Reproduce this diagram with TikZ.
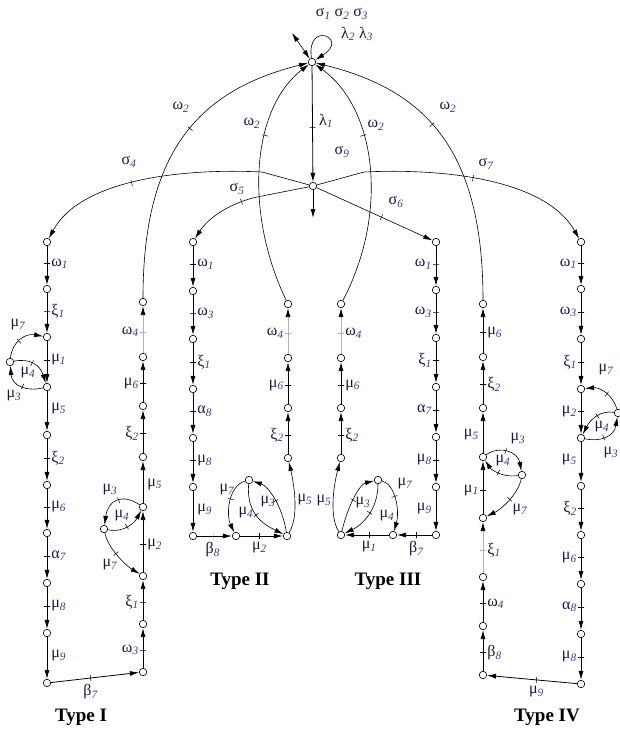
\documentclass[tikz,border=0pt]{standalone}
\usepackage{fontspec}
\setmainfont{Liberation Serif}
\usetikzlibrary{arrows.meta}
\definecolor{lab}{RGB}{25,25,60}
\definecolor{subc}{RGB}{50,60,130}
\newcommand{\sbx}[1]{\textsubscript{\itshape\color{subc}#1}}
\newcommand\edR[4][e]{\draw[#1] (#2) -- node[tk]{} node[lr]{#4} (#3);}
\newcommand\edL[4][e]{\draw[#1] (#2) -- node[tk]{} node[ll]{#4} (#3);}
\newcommand\enR[3]{\draw[e] (#1) -- node[lr]{#3} (#2);}
\newcommand\enL[3]{\draw[e] (#1) -- node[ll]{#3} (#2);}
\begin{document}
\begin{tikzpicture}[x=1pt,y=-1pt,
  v/.style={circle,draw,line width=0.6pt,inner sep=0pt,minimum size=7.5pt,fill=white},
  e/.style={line width=0.8pt,-{Latex[length=9pt,width=5pt]}},
  ge/.style={line width=0.8pt,draw=gray!60,-{Latex[length=9pt,width=5pt,color=black]}},
  th/.style={line width=0.6pt,-{Latex[length=9pt,width=5pt]}},
  tk/.style={pos=.45,sloped,draw,line width=0.5pt,inner sep=0pt,minimum width=0pt,minimum height=6pt,rectangle,fill=none},
  lbl/.style={text=lab,font=\fontsize{16}{17}\selectfont,inner sep=1pt},
  lr/.style={lbl,pos=.45,right=3pt},
  ll/.style={lbl,pos=.45,left=3pt},
  lb/.style={lbl,pos=.45,below=5pt},
  ty/.style={font=\fontsize{19}{21}\selectfont\bfseries}
]
\useasboundingbox (0,0) rectangle (620,731);
% ---------- nodes
\node[v] (T) at (312,62) {};
\node[v] (C) at (313,186) {};
\coordinate (tup) at (292,33);
\coordinate (cd) at (313,218);
\foreach \n/\y in {1/242,2/289,3/337,4/387,5/435,6/485,7/533,8/583,9/633,10/683} \node[v] (a\n) at (47,\y) {};
\foreach \n/\y in {1/672,2/624,3/576,4/507,5/457,6/406,7/357,8/302} \node[v] (b\n) at (143,\y) {};
\node[v] (s1) at (10,362) {};
\node[v] (s2) at (104,529) {};
\foreach \n/\y in {1/242,2/291,3/339,4/389,5/438,6/487,7/536} \node[v] (c\n) at (193,\y) {};
\node[v] (c8) at (236,536) {};
\node[v] (c9) at (287,536) {};
\node[v] (ct) at (249,480) {};
\foreach \n/\y in {1/458,2/408,3/358,4/304} \node[v] (d\n) at (288,\y) {};
\foreach \n/\y in {1/242,2/290,3/338,4/387,5/437,6/487,7/535} \node[v] (f\n) at (436,\y) {};
\node[v] (f8) at (393,535) {};
\node[v] (f9) at (341,535) {};
\node[v] (ft) at (378,480) {};
\foreach \n/\y in {1/458,2/408,3/358,4/304} \node[v] (g\n) at (341,\y) {};
\foreach \n/\y in {1/242,2/289,3/339,4/389,5/438,6/486,7/535,8/584,9/634,10/684} \node[v] (h\n) at (581,\y) {};
\node[v] (s4) at (618,413) {};
\foreach \n/\y in {1/675,2/626,3/577,4/518,5/457,6/408,7/357,8/304} \node[v] (k\n) at (483,\y) {};
\node[v] (s5) at (522,475) {};
% ---------- top
\draw[th] (T) .. controls (306,20) and (350,38) .. (T);
\draw[th,{Latex[length=9pt,width=5pt]}-{Latex[length=9pt,width=5pt]}] (T) -- (tup);
\node[lbl] (sg) at (342,14) {σ\sbx{1} σ\sbx{2} σ\sbx{3}};
\node[lbl] (lm) at (357,34) {λ\sbx{2} λ\sbx{3}};
\draw[e] (T) -- node[tk,pos=.53]{} (C);
\node[lbl] (l1) at (326,121) {λ\sbx{1}};
\node[lbl] (s9) at (342,152) {σ\sbx{9}};
\draw[e] (C) -- (cd);
% sigma curves
\draw[th] (C) -- (262,172) .. controls (180,168) and (80,180) .. node[tk,pos=.52]{} (a1);
\node[lbl] (ls4) at (129,162) {σ\sbx{4}};
\draw[th] (C) -- (364,172) .. controls (446,168) and (546,180) .. node[tk,pos=.43]{} (h1);
\node[lbl] (ls7) at (486,164) {σ\sbx{7}};
\draw[th] (C) -- (257,197) .. controls (230,203) and (208,218) .. node[tk,pos=.2]{} (c1);
\node[lbl] (ls5) at (237,189) {σ\sbx{5}};
\draw[th] (C) -- node[tk,pos=.56]{} (f1);
\node[lbl] (ls6) at (396,202) {σ\sbx{6}};
% omega2 curves
\draw[th] (b8) .. controls (143,150) and (200,90) .. node[tk,pos=.53]{} (T);
\node[lbl] (w1) at (181,107) {ω\sbx{2}};
\draw[th] (d4) .. controls (245,215) and (250,110) .. node[tk,pos=.63]{} (T);
\node[lbl] (w2) at (252,123) {ω\sbx{2}};
\draw[th] (g4) .. controls (388,215) and (378,110) .. node[tk,pos=.63]{} (T);
\node[lbl] (w3) at (376,125) {ω\sbx{2}};
\draw[th] (k8) .. controls (483,150) and (426,90) .. node[tk,pos=.55]{} (T);
\node[lbl] (w4) at (448,107) {ω\sbx{2}};
% ---------- Type I
\edR{a1}{a2}{ω\sbx{1}}
\edR{a2}{a3}{ξ\sbx{1}}
\edR{a3}{a4}{μ\sbx{1}}
\enR{a4}{a5}{μ\sbx{5}}
\edR{a5}{a6}{ξ\sbx{2}}
\edR{a6}{a7}{μ\sbx{6}}
\edR{a7}{a8}{α\sbx{7}}
\edR{a8}{a9}{μ\sbx{8}}
\enR{a9}{a10}{μ\sbx{9}}
\draw[e] (a10) -- node[tk]{} node[lb]{β\sbx{7}} (b1);
\edL{b1}{b2}{ω\sbx{3}}
\edL{b2}{b3}{ξ\sbx{1}}
\edR{b3}{b4}{μ\sbx{2}}
\enR{b4}{b5}{μ\sbx{5}}
\edL{b5}{b6}{ξ\sbx{2}}
\edL{b6}{b7}{μ\sbx{6}}
\edL[ge]{b7}{b8}{ω\sbx{4}}
\draw[th] (s1) .. controls (12,342) and (25,333) .. node[tk]{} (a3);
\draw[th] (s1) .. controls (30,358) and (40,365) .. node[tk]{} (a4);
\draw[th] (a4) .. controls (25,392) and (12,385) .. node[tk]{} (s1);
\node[lbl] (m17) at (18,325) {μ\sbx{7}};
\node[lbl] (m14) at (28,373) {μ\sbx{4}};
\node[lbl] (m13) at (14,396) {μ\sbx{3}};
\draw[th] (b4) .. controls (122,493) and (108,500) .. node[tk]{} (s2);
\draw[th] (s2) .. controls (125,533) and (135,522) .. node[tk]{} (b4);
\draw[th] (s2) .. controls (108,548) and (125,565) .. node[tk]{} (b3);
\node[lbl] (m23) at (110,490) {μ\sbx{3}};
\node[lbl] (m24) at (122,516) {μ\sbx{4}};
\node[lbl] (m27) at (110,565) {μ\sbx{7}};
\node[ty] (ty1) at (81,717) {Type I};
% ---------- Type II
\edR{c1}{c2}{ω\sbx{1}}
\edR{c2}{c3}{ω\sbx{3}}
\edR{c3}{c4}{ξ\sbx{1}}
\edR{c4}{c5}{α\sbx{8}}
\edR{c5}{c6}{μ\sbx{8}}
\enR{c6}{c7}{μ\sbx{9}}
\draw[e] (c7) -- node[tk]{} node[lb]{β\sbx{8}} (c8);
\draw[e] (c8) -- node[tk]{} node[lb]{μ\sbx{2}} (c9);
\draw[th] (ct) .. controls (228,486) and (226,515) .. node[tk]{} (c8);
\draw[th] (ct) .. controls (246,515) and (265,525) .. node[tk]{} (c9);
\draw[th] (c9) .. controls (282,505) and (268,486) .. node[tk]{} (ct);
\draw[th] (c9) .. controls (300,515) and (293,480) .. (d1);
\node[lbl] (n7) at (227,490) {μ\sbx{7}};
\node[lbl] (n4) at (246,513) {μ\sbx{4}};
\node[lbl] (n3) at (268,502) {μ\sbx{3}};
\node[lbl] (n5) at (305,500) {μ\sbx{5}};
\edL{d1}{d2}{ξ\sbx{2}}
\edL{d2}{d3}{μ\sbx{6}}
\edL[ge]{d3}{d4}{ω\sbx{4}}
\node[ty] (ty2) at (240,581) {Type II};
% ---------- Type III
\edL{f1}{f2}{ω\sbx{1}}
\edL{f2}{f3}{ω\sbx{3}}
\edL{f3}{f4}{ξ\sbx{1}}
\edL{f4}{f5}{α\sbx{7}}
\edL{f5}{f6}{μ\sbx{8}}
\enL{f6}{f7}{μ\sbx{9}}
\draw[e] (f7) -- node[tk]{} node[lb]{β\sbx{7}} (f8);
\draw[e] (f8) -- node[tk]{} node[lb]{μ\sbx{1}} (f9);
\draw[th] (f9) .. controls (348,505) and (360,484) .. node[tk]{} (ft);
\draw[th] (ft) .. controls (378,510) and (362,525) .. node[tk]{} (f9);
\draw[th] (ft) .. controls (395,484) and (400,510) .. node[tk]{} (f8);
\draw[th] (f9) .. controls (328,515) and (335,480) .. (g1);
\node[lbl] (p3) at (363,503) {μ\sbx{3}};
\node[lbl] (p4) at (387,516) {μ\sbx{4}};
\node[lbl] (p7) at (405,484) {μ\sbx{7}};
\node[lbl] (p5) at (324,501) {μ\sbx{5}};
\edR{g1}{g2}{ξ\sbx{2}}
\edR{g2}{g3}{μ\sbx{6}}
\edR[ge]{g3}{g4}{ω\sbx{4}}
\node[ty] (ty3) at (388,581) {Type III};
% ---------- Type IV
\edL{h1}{h2}{ω\sbx{1}}
\edL{h2}{h3}{ω\sbx{3}}
\edL{h3}{h4}{ξ\sbx{1}}
\edL{h4}{h5}{μ\sbx{2}}
\enL{h5}{h6}{μ\sbx{5}}
\edL{h6}{h7}{ξ\sbx{2}}
\edL{h7}{h8}{μ\sbx{6}}
\edL{h8}{h9}{α\sbx{8}}
\edL{h9}{h10}{μ\sbx{8}}
\draw[e] (h10) -- node[tk]{} node[lb]{μ\sbx{9}} (k1);
\edR{k1}{k2}{β\sbx{8}}
\edR{k2}{k3}{ω\sbx{4}}
\edR[ge]{k3}{k4}{ξ\sbx{1}}
\edL{k4}{k5}{μ\sbx{1}}
\enL{k5}{k6}{μ\sbx{5}}
\edR{k6}{k7}{ξ\sbx{2}}
\edR{k7}{k8}{μ\sbx{6}}
\draw[th] (s4) .. controls (613,395) and (600,387) .. node[tk]{} (h4);
\draw[th] (s4) .. controls (600,410) and (590,420) .. node[tk]{} (h5);
\draw[th] (h5) .. controls (600,442) and (614,437) .. node[tk]{} (s4);
\node[lbl] (q7) at (606,370) {μ\sbx{7}};
\node[lbl] (q4) at (602,427) {μ\sbx{4}};
\node[lbl] (q3) at (611,453) {μ\sbx{3}};
\draw[th] (k5) .. controls (500,445) and (518,452) .. node[tk]{} (s5);
\draw[th] (s5) .. controls (500,478) and (490,468) .. node[tk]{} (k5);
\draw[th] (s5) .. controls (518,495) and (500,510) .. node[tk]{} (k4);
\node[lbl] (r3) at (518,439) {μ\sbx{3}};
\node[lbl] (r4) at (503,461) {μ\sbx{4}};
\node[lbl] (r7) at (520,510) {μ\sbx{7}};
\node[ty] (ty4) at (547,717) {Type IV};
\end{tikzpicture}
\end{document}
